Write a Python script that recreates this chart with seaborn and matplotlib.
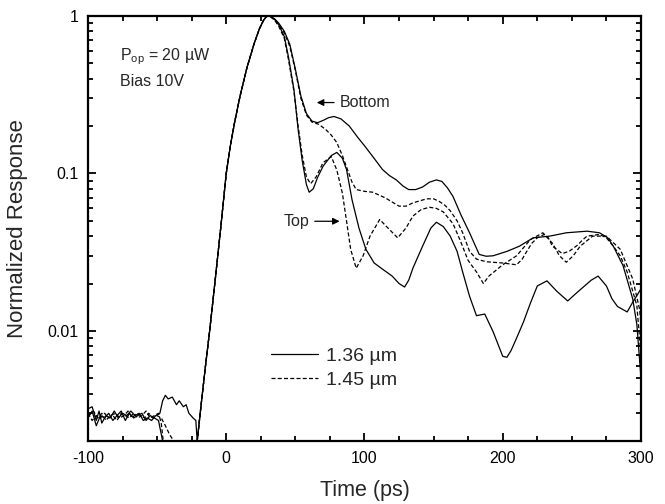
import matplotlib
matplotlib.use("Agg")
import matplotlib.pyplot as plt
import matplotlib.ticker as mticker
from matplotlib.lines import Line2D
import numpy as np
import pandas as pd
import seaborn as sns

# shared rising edge of the pulse (all four traces overlap here)
rise_t = [-21, -18, -15, -12, -8, -4, 0, 3, 6, 10, 15, 20, 24, 27, 29, 30]
rise_r = [0.002, 0.0035, 0.006, 0.01, 0.021, 0.045, 0.1, 0.15, 0.21, 0.31,
          0.47, 0.66, 0.83, 0.94, 0.99, 1.0]

# 1.36 um, bottom illumination (solid, upper)
noise_t_bot136 = [-100, -97, -94, -92, -90, -87, -84, -81, -78, -75, -72, -69,
                  -66, -63, -60, -57, -54, -51, -48, -46, -44, -42, -39, -36,
                  -34, -31, -29, -27, -24, -22]
noise_r_bot136 = [0.0032, 0.0033, 0.0027, 0.0031, 0.0026, 0.0029, 0.0028,
                  0.0031, 0.0028, 0.0030, 0.0029, 0.0031, 0.0029, 0.0030,
                  0.0027, 0.0028, 0.0027, 0.0029, 0.0030, 0.0036, 0.0039,
                  0.0037, 0.0038, 0.0034, 0.0036, 0.0033, 0.0034, 0.0030,
                  0.0028, 0.0027]
t_bot136 = [32, 35, 38, 42, 46, 50, 54, 58, 62, 66, 70, 74, 78, 83, 89, 95,
            100, 106, 113, 118, 123, 128, 132, 137, 142, 147, 152, 156, 160,
            164, 170, 176, 180, 183, 188, 193, 203, 212, 222, 234, 246, 261,
            270, 276, 280, 287, 294, 297, 300]
r_bot136 = [0.995, 0.96, 0.9, 0.8, 0.66, 0.46, 0.31, 0.24, 0.215, 0.21,
            0.217, 0.226, 0.23, 0.222, 0.20, 0.17, 0.15, 0.128, 0.106, 0.097,
            0.091, 0.083, 0.079, 0.079, 0.082, 0.088, 0.091, 0.089, 0.081,
            0.0715, 0.054, 0.042, 0.035, 0.0306, 0.0298, 0.030, 0.032, 0.0345,
            0.039, 0.040, 0.042, 0.043, 0.042, 0.039, 0.0345, 0.026, 0.016,
            0.011, 0.005]

# 1.45 um, bottom illumination (dashed, upper)
noise_t_bot145 = [-100, -96, -93, -90, -87, -84, -80, -77, -74, -71, -68, -65,
                  -62, -59, -56, -53, -50, -47, -44, -41, -38, -35, -30, -22]
noise_r_bot145 = [0.0029, 0.0031, 0.0028, 0.0030, 0.0027, 0.0029, 0.0030,
                  0.0028, 0.0029, 0.0031, 0.0028, 0.0030, 0.0029, 0.0028,
                  0.0030, 0.0028, 0.0029, 0.0028, 0.0025, 0.0022, 0.0020,
                  0.0016, 0.0014, 0.0014]
t_bot145 = [32, 35, 38, 42, 46, 50, 54, 58, 62, 67, 72, 76, 80, 84, 87, 91,
            94, 100, 106, 115, 125, 130, 135, 140, 145, 150, 154, 158, 162,
            167, 171, 176, 181, 188, 200, 210, 214, 217, 221, 225, 230, 233,
            236, 243, 248, 254, 258, 261, 270, 275, 280, 285, 290, 297, 300]
r_bot145 = [0.99, 0.95, 0.88, 0.78, 0.64, 0.45, 0.3, 0.235, 0.212, 0.205,
            0.19, 0.175, 0.157, 0.13, 0.11, 0.088, 0.079, 0.077, 0.076, 0.07,
            0.062, 0.062, 0.065, 0.067, 0.069, 0.069, 0.0665, 0.063, 0.058,
            0.05, 0.042, 0.032, 0.0286, 0.0275, 0.027, 0.0263, 0.0285, 0.0316,
            0.036, 0.039, 0.041, 0.039, 0.0345, 0.031, 0.032, 0.035, 0.038,
            0.040, 0.041, 0.039, 0.0345, 0.030, 0.0237, 0.0145, 0.007]

# 1.36 um, top illumination (solid, lower)
noise_t_top136 = [-100, -97, -94, -91, -88, -85, -82, -79, -76, -73, -70, -67,
                  -64, -61, -58, -55, -52, -49, -46, -44, -30, -22]
noise_r_top136 = [0.0028, 0.0031, 0.0025, 0.0029, 0.0028, 0.0030, 0.0027,
                  0.0029, 0.0031, 0.0027, 0.0030, 0.0028, 0.0029, 0.0030,
                  0.0027, 0.0029, 0.0028, 0.0027, 0.0020, 0.0015, 0.0014,
                  0.0014]
t_top136 = [32, 35, 38, 42, 45, 49, 52, 55, 58, 60, 63, 66, 70, 76, 80, 84,
            87, 91, 96, 101, 107, 113, 120, 125, 129, 132, 135, 142, 148, 152,
            157, 162, 167, 171, 176, 181, 187, 193, 200, 203, 206, 210, 215,
            220, 225, 232, 239, 247, 252, 258, 264, 269, 275, 279, 283, 290,
            294, 300]
r_top136 = [0.99, 0.95, 0.88, 0.74, 0.55, 0.34, 0.19, 0.12, 0.085, 0.076,
            0.08, 0.094, 0.111, 0.13, 0.136, 0.125, 0.106, 0.068, 0.045, 0.033,
            0.027, 0.0247, 0.0223, 0.02, 0.019, 0.021, 0.025, 0.0345, 0.045,
            0.049, 0.046, 0.040, 0.032, 0.0237, 0.0166, 0.0125, 0.0128, 0.0099,
            0.0069, 0.0068, 0.0075, 0.009, 0.0114, 0.015, 0.0193, 0.0208,
            0.0179, 0.0155, 0.017, 0.0189, 0.021, 0.0223, 0.0193, 0.016,
            0.0143, 0.0132, 0.0152, 0.0185]

# 1.45 um, top illumination (dashed, lower)
noise_t_top145 = [-100, -97, -94, -91, -88, -85, -82, -79, -76, -73, -70, -67,
                  -64, -61, -58, -55, -52, -49, -47, -45, -42, -30, -22]
noise_r_top145 = [0.0030, 0.0027, 0.0029, 0.0028, 0.0030, 0.0028, 0.0029,
                  0.0027, 0.0030, 0.0029, 0.0028, 0.0030, 0.0028, 0.0029,
                  0.0031, 0.0028, 0.0029, 0.0030, 0.0026, 0.0018, 0.0014,
                  0.0014, 0.0014]
t_top145 = [32, 35, 38, 42, 45, 49, 52, 55, 58, 61, 65, 70, 76, 80, 84, 87,
            90, 94, 99, 104, 111, 117, 124, 130, 135, 141, 147, 152, 157, 164,
            169, 175, 181, 186, 190, 200, 210, 220, 229, 236, 241, 246, 251,
            256, 265, 275, 285, 294, 299, 300]
r_top145 = [0.99, 0.94, 0.86, 0.72, 0.53, 0.33, 0.2, 0.13, 0.095, 0.086,
            0.095, 0.117, 0.128, 0.105, 0.075, 0.05, 0.033, 0.025, 0.03, 0.04,
            0.051, 0.045, 0.039, 0.045, 0.0536, 0.059, 0.061, 0.06, 0.057,
            0.048, 0.038, 0.028, 0.0237, 0.020, 0.0223, 0.0263, 0.03, 0.038,
            0.042, 0.036, 0.030, 0.0273, 0.030, 0.0345, 0.040, 0.040, 0.033,
            0.0214, 0.0137, 0.011]

traces = [
    ("bot136", "1.36 µm", noise_t_bot136, noise_r_bot136, t_bot136, r_bot136),
    ("bot145", "1.45 µm", noise_t_bot145, noise_r_bot145, t_bot145, r_bot145),
    ("top136", "1.36 µm", noise_t_top136, noise_r_top136, t_top136, r_top136),
    ("top145", "1.45 µm", noise_t_top145, noise_r_top145, t_top145, r_top145),
]

rows = []
for name, wl, nt, nr, tt, rr in traces:
    ts = nt + rise_t + tt
    rs = nr + rise_r + rr
    for t, r in zip(ts, rs):
        rows.append({"curve": name, "wavelength": wl,
                     "Time": t, "Response": r})
df = pd.DataFrame(rows)

sns.set_theme(style="ticks")
plt.rcParams["font.family"] = ["Liberation Sans", "DejaVu Sans"]
plt.rcParams["axes.unicode_minus"] = False

fig = plt.figure(figsize=(6.65, 5.04), dpi=100)
ax = fig.add_axes([0.1323, 0.125, 0.8316, 0.8433])

dash_map = {"1.36 µm": "", "1.45 µm": (3.2, 1.8)}
sns.lineplot(data=df, x="Time", y="Response", units="curve",
             style="wavelength", dashes=dash_map, estimator=None, sort=False,
             color="black", linewidth=0.9, legend=False, ax=ax)

ax.set_yscale("log")
ax.set_xlim(-100, 300)
ax.set_ylim(0.002, 1)

ax.xaxis.set_major_locator(mticker.MultipleLocator(100))
ax.xaxis.set_minor_locator(mticker.MultipleLocator(25))
ax.yaxis.set_major_locator(mticker.FixedLocator([0.01, 0.1, 1]))
ax.yaxis.set_major_formatter(mticker.FixedFormatter(["0.01", "0.1", "1"]))
ax.yaxis.set_minor_locator(mticker.LogLocator(base=10, subs=np.arange(2, 10)))
ax.yaxis.set_minor_formatter(mticker.NullFormatter())

ax.tick_params(which="both", direction="in", top=True, right=True,
               colors="black", labelsize=11.5, width=1.3)
ax.tick_params(which="major", length=6, pad=7)
ax.tick_params(which="minor", length=3.5)
for s in ax.spines.values():
    s.set_linewidth(1.6)
    s.set_color("black")

ax.set_xlabel("Time (ps)", fontsize=15.5, labelpad=10)
ax.set_ylabel("Normalized Response", fontsize=16, labelpad=14)

ax.text(0.058, 0.905, r"P$_{\mathregular{op}}$ = 20 µW", transform=ax.transAxes,
        fontsize=11.5, va="center", ha="left")
ax.text(0.058, 0.845, "Bias 10V", transform=ax.transAxes,
        fontsize=11.5, va="center", ha="left")

# arrows pointing at the two groups
ax.annotate("", xy=(63.5, 0.282), xytext=(80, 0.282),
            arrowprops=dict(arrowstyle="-|>", color="black", lw=0.9,
                            mutation_scale=10))
ax.text(82, 0.282, "Bottom", fontsize=11.5, va="center", ha="left")
ax.annotate("", xy=(84, 0.0497), xytext=(62, 0.0497),
            arrowprops=dict(arrowstyle="-|>", color="black", lw=0.9,
                            mutation_scale=10))
ax.text(60, 0.0497, "Top", fontsize=11.5, va="center", ha="right")

handles = [Line2D([], [], color="black", lw=0.9, linestyle="-"),
           Line2D([], [], color="black", lw=0.9, dashes=(3.2, 1.8))]
ax.legend(handles, ["1.36 µm", "1.45 µm"], loc="upper left",
          bbox_to_anchor=(0.3, 0.262), frameon=False, fontsize=14,
          handlelength=2.4, handletextpad=0.4, labelspacing=0.35)

plt.savefig("out.png", dpi=100)
plt.close()
